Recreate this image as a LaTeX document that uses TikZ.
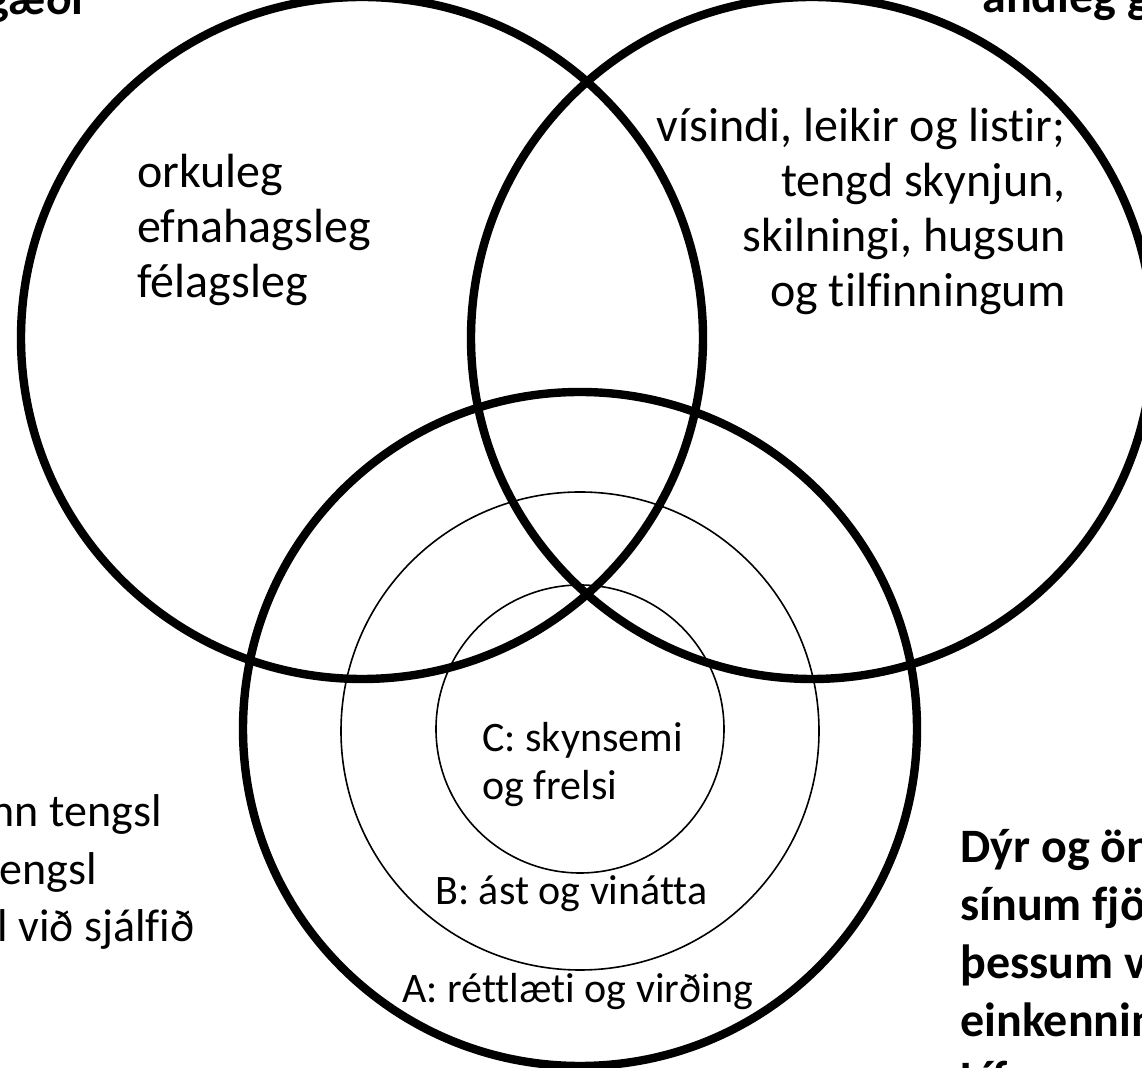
\documentclass[tikz,border=0pt]{standalone}
\usepackage{fontspec}
\setmainfont{Carlito}[Ligatures={NoCommon}]
\tikzset{
  bigring/.style={line width=4.2pt},
  thinring/.style={line width=0.8pt},
  setlabel/.style={inner sep=0pt, font=\fontsize{24}{27.5}\selectfont},
  ringlabel/.style={inner sep=0pt, font=\fontsize{21}{24}\selectfont},
  sidelabel/.style={inner sep=0pt, font=\fontsize{23}{29}\selectfont},
  headlabel/.style={inner sep=0pt, font=\fontsize{24}{29}\selectfont\bfseries}
}
\begin{document}
\begin{tikzpicture}[x=0.5pt,y=-0.5pt]
  \useasboundingbox (0,0) rectangle (1142,1068);
  \clip (0,0) rectangle (1142,1068);
  % centres of the rings
  \coordinate (matter) at (362,338);
  \coordinate (mind) at (812,338);
  \coordinate (life) at (580,729);
  \draw[bigring] (matter) circle[radius=170.5pt];
  \draw[bigring] (mind) circle[radius=170.5pt];
  \draw[bigring] (life) circle[radius=168.5pt];
  \draw[thinring] (580,731) circle[radius=119.5pt];
  \draw[thinring] (life) circle[radius=72pt];
  % headings, cut by the edge
  \node[headlabel, anchor=base east] (mattertitle) at (84,15) {gæði};
  \node[headlabel, anchor=base west] (mindtitle) at (982,13) {andleg g};
  % texts in the rings (base = last line)
  \node[setlabel, anchor=base west, align=left] (mattertext) at (137,298)
    {orkuleg\\efnahagsleg\\félagsleg};
  \node[setlabel, anchor=base east, align=right] (mindtext) at (1066,307)
    {vísindi, leikir og listir;\\tengd skynjun,\\skilningi, hugsun\\og tilfinningum};
  \node[ringlabel, anchor=base west, align=left] (ringc) at (482,800)
    {C: skynsemi\\og frelsi};
  \node[ringlabel, anchor=base west] (ringb) at (435,905) {B: ást og vinátta};
  \node[ringlabel, anchor=base west] (ringa) at (402,1003) {A: réttlæti og virðing};
  % left side
  \node[sidelabel, anchor=base east] (side1) at (162,827) {nn tengsl};
  \node[sidelabel, anchor=base east] (side2) at (97,885) {engsl};
  \node[sidelabel, anchor=base east] (side3) at (195,942) {l við sjálfið};
  % right side
  \node[headlabel, anchor=base west, align=left] (livetext) at (960,1095)
    {Dýr og ön\\sínum fjö\\þessum v\\einkennin\\Líf};
\end{tikzpicture}
\end{document}
